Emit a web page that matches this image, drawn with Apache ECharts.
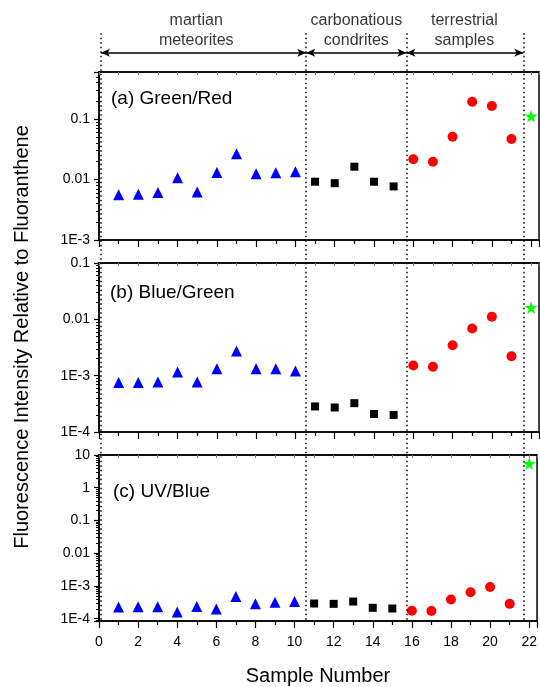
<!DOCTYPE html>
<html>
<head>
<meta charset="utf-8">
<script src="https://cdn.jsdelivr.net/npm/echarts@6/dist/echarts.min.js"></script>
<style>
html, body { margin: 0; padding: 0; background: #fff; }
#chart { width: 540px; height: 687px; }
</style>
</head>
<body>
<div id="chart"></div>
<script>
// sample numbers per group
var martianX = [1, 2, 3, 4, 5, 6, 7, 8, 9, 10]
var carbX = [11, 12, 13, 14, 15]
var terrX = [16, 17, 18, 19, 20, 21]
var refX = [22]

// (a) Green/Red
var aMartian = [0.0056, 0.0057, 0.0061, 0.0107, 0.0062, 0.0131, 0.0267, 0.0125, 0.0129, 0.0134]
var aCarb = [0.0092, 0.0087, 0.0163, 0.0092, 0.0077]
var aTerr = [0.0216, 0.0197, 0.051, 0.193, 0.164, 0.0467]
var aRef = [0.112]

// (b) Blue/Green
var bMartian = [7.6e-4, 7.6e-4, 7.7e-4, 1.16e-3, 7.7e-4, 1.33e-3, 2.74e-3, 1.33e-3, 1.32e-3, 1.21e-3]
var bCarb = [2.84e-4, 2.72e-4, 3.25e-4, 2.09e-4, 2.01e-4]
var bTerr = [1.52e-3, 1.44e-3, 3.47e-3, 6.85e-3, 0.0111, 2.21e-3]
var bRef = [0.0162]

// (c) UV/Blue
var cMartian = [2.26e-4, 2.3e-4, 2.3e-4, 1.59e-4, 2.36e-4, 1.96e-4, 4.73e-4, 2.84e-4, 3.19e-4, 3.34e-4]
var cCarb = [2.91e-4, 2.84e-4, 3.34e-4, 2.15e-4, 2.05e-4]
var cTerr = [1.74e-4, 1.71e-4, 3.85e-4, 6.4e-4, 9.29e-4, 2.84e-4]
var cRef = [5.47]

var panelNames = ['(a) Green/Red', '(b) Blue/Green', '(c) UV/Blue']
var yMin = [0.001, 1e-4, 8.5e-5]
var yMax = [0.6, 0.1, 10]

var groupNames = ['martian\nmeteorites', 'carbonatious\ncondrites', 'terrestrial\nsamples']
var groupEdges = [0.1, 10.55, 15.65, 21.6]
var groupLabelX = [4.95, 13.1, 18.6]

var font = 'Liberation Sans, Arial, sans-serif'
var star = 'path://M50,0 L61,35 L98,35 L68,57 L79,91 L50,70 L21,91 L32,57 L2,35 L39,35 Z'

function pts(xs, ys) {
    return xs.map(function (x, i) { return [x, ys[i]] })
}

function logLabel(v) {
    var e = Math.log10(v)
    var r = Math.round(e)
    if (Math.abs(e - r) > 0.01) return ''
    if (r <= -3) return '1E' + r
    return String(Math.pow(10, r).toFixed(Math.max(0, -r)) * 1)
}

var grids = [
    { left: 99, right: 1, top: 72, height: 168 },
    { left: 99, right: 1, top: 263, height: 169 },
    { left: 99, right: 1, top: 455, height: 167 },
    { left: 99, right: 1, top: 10, bottom: 65 }
]
grids.forEach(function (g, i) {
    if (i < 3) { g.show = true; g.borderColor = '#000'; g.borderWidth = 1.5 }
})

var xAxes = []
var yAxes = []
for (var gi = 0; gi < 3; gi++) {
    xAxes.push({
        gridIndex: gi, type: 'value', min: 0, max: 22.4, interval: 2,
        axisLine: { show: true, onZero: false, lineStyle: { color: '#000', width: 1.5 } },
        axisTick: { show: true, inside: false, length: 7, lineStyle: { color: '#000', width: 1.2 } },
        minorTick: { show: true, splitNumber: 2, length: 4, lineStyle: { color: '#000', width: 1.2 } },
        axisLabel: { show: gi === 2, fontSize: 14, color: '#000', margin: 14, fontFamily: font, showMaxLabel: false },
        splitLine: { show: false },
        name: gi === 2 ? 'Sample Number' : '',
        nameLocation: 'middle', nameGap: 45,
        nameTextStyle: { fontSize: 20, color: '#000', fontFamily: font }
    })
    xAxes.push({
        gridIndex: gi, type: 'value', position: 'top', min: 0, max: 22.4, interval: 2,
        axisLine: { show: true, onZero: false, lineStyle: { color: '#000', width: 1.5 } },
        axisTick: { show: true, inside: true, length: 3, lineStyle: { color: '#777', width: 1 } },
        minorTick: { show: true, splitNumber: 2, length: 3, lineStyle: { color: '#777', width: 1 } },
        axisLabel: { show: false },
        splitLine: { show: false }
    })
    yAxes.push({
        gridIndex: gi, type: 'log', logBase: 10, min: yMin[gi], max: yMax[gi],
        axisLine: { show: true, lineStyle: { color: '#000', width: 1.5 } },
        axisTick: { show: true, inside: false, length: 5, lineStyle: { color: '#000', width: 1.2 } },
        minorTick: { show: true, splitNumber: 9, length: 3, lineStyle: { color: '#000', width: 1 } },
        axisLabel: { fontSize: 14, color: '#000', margin: 9, fontFamily: font, formatter: logLabel },
        splitLine: { show: false }
    })
}
// overlay for group separators, arrows and group names
xAxes.push({ gridIndex: 3, type: 'value', min: 0, max: 22.4, show: false })
yAxes.push({ gridIndex: 3, type: 'value', min: 0, max: 100, show: false })

var dashTop = 96.2
var arrowY = 93.0
var labelY = 96.6

var panels = [
    [aMartian, aCarb, aTerr, aRef],
    [bMartian, bCarb, bTerr, bRef],
    [cMartian, cCarb, cTerr, cRef]
]

var series = []
panels.forEach(function (p, i) {
    series.push({ type: 'scatter', xAxisIndex: i * 2, yAxisIndex: i, symbol: 'triangle', symbolSize: 11,
        itemStyle: { color: '#0000ff', opacity: 1 }, data: pts(martianX, p[0]) })
    series.push({ type: 'scatter', xAxisIndex: i * 2, yAxisIndex: i, symbol: 'rect', symbolSize: 8,
        itemStyle: { color: '#000', opacity: 1 }, data: pts(carbX, p[1]) })
    series.push({ type: 'scatter', xAxisIndex: i * 2, yAxisIndex: i, symbol: 'circle', symbolSize: 10,
        itemStyle: { color: '#ff0000', opacity: 1 }, data: pts(terrX, p[2]) })
    series.push({ type: 'scatter', xAxisIndex: i * 2, yAxisIndex: i, symbol: star, symbolSize: 13,
        itemStyle: { color: '#00ff00', opacity: 1 }, data: pts(refX, p[3]) })
})

var sepLines = groupEdges.map(function (x) {
    return [{ coord: [x, dashTop] }, { coord: [x, 0] }]
})
var arrows = []
for (var k = 0; k < groupEdges.length - 1; k++) {
    arrows.push([{ coord: [groupEdges[k], arrowY] }, { coord: [groupEdges[k + 1], arrowY] }])
}

series.push({
    type: 'scatter', xAxisIndex: 6, yAxisIndex: 3, symbolSize: 0, silent: true,
    label: { show: true, position: 'inside', fontSize: 16, lineHeight: 20, color: '#000', fontFamily: font },
    data: groupLabelX.map(function (x, i) {
        return { value: [x, labelY], label: { formatter: groupNames[i] } }
    }),
    markLine: {
        silent: true, symbol: ['none', 'none'], animation: false,
        label: { show: false },
        lineStyle: { color: '#000', width: 1.5, type: [1.5, 3] },
        data: sepLines
    }
})
series.push({
    type: 'line', xAxisIndex: 6, yAxisIndex: 3, data: [], silent: true,
    markLine: {
        silent: true, symbol: ['arrow', 'arrow'], symbolSize: [6, 9], animation: false,
        label: { show: false },
        lineStyle: { color: '#000', width: 1.5, type: 'solid' },
        data: arrows
    }
})

var myChart = echarts.init(document.getElementById('chart'))
var option = {
    animation: false,
    textStyle: { fontFamily: font },
    title: panelNames.map(function (t, i) {
        return { text: t, left: [111, 110, 113][i], top: [89, 283, 482][i], padding: 0,
            textStyle: { fontSize: 19, fontWeight: 'normal', color: '#000', fontFamily: font } }
    }),
    grid: grids,
    xAxis: xAxes,
    yAxis: yAxes,
    graphic: [{
        type: 'text', x: 22, y: 337, rotation: Math.PI / 2,
        style: { text: 'Fluorescence Intensity Relative to Fluoranthene', fontSize: 20, fill: '#000',
            fontFamily: font, textAlign: 'center', textVerticalAlign: 'middle' }
    }],
    series: series
}
myChart.setOption(option)
</script>
</body>
</html>
